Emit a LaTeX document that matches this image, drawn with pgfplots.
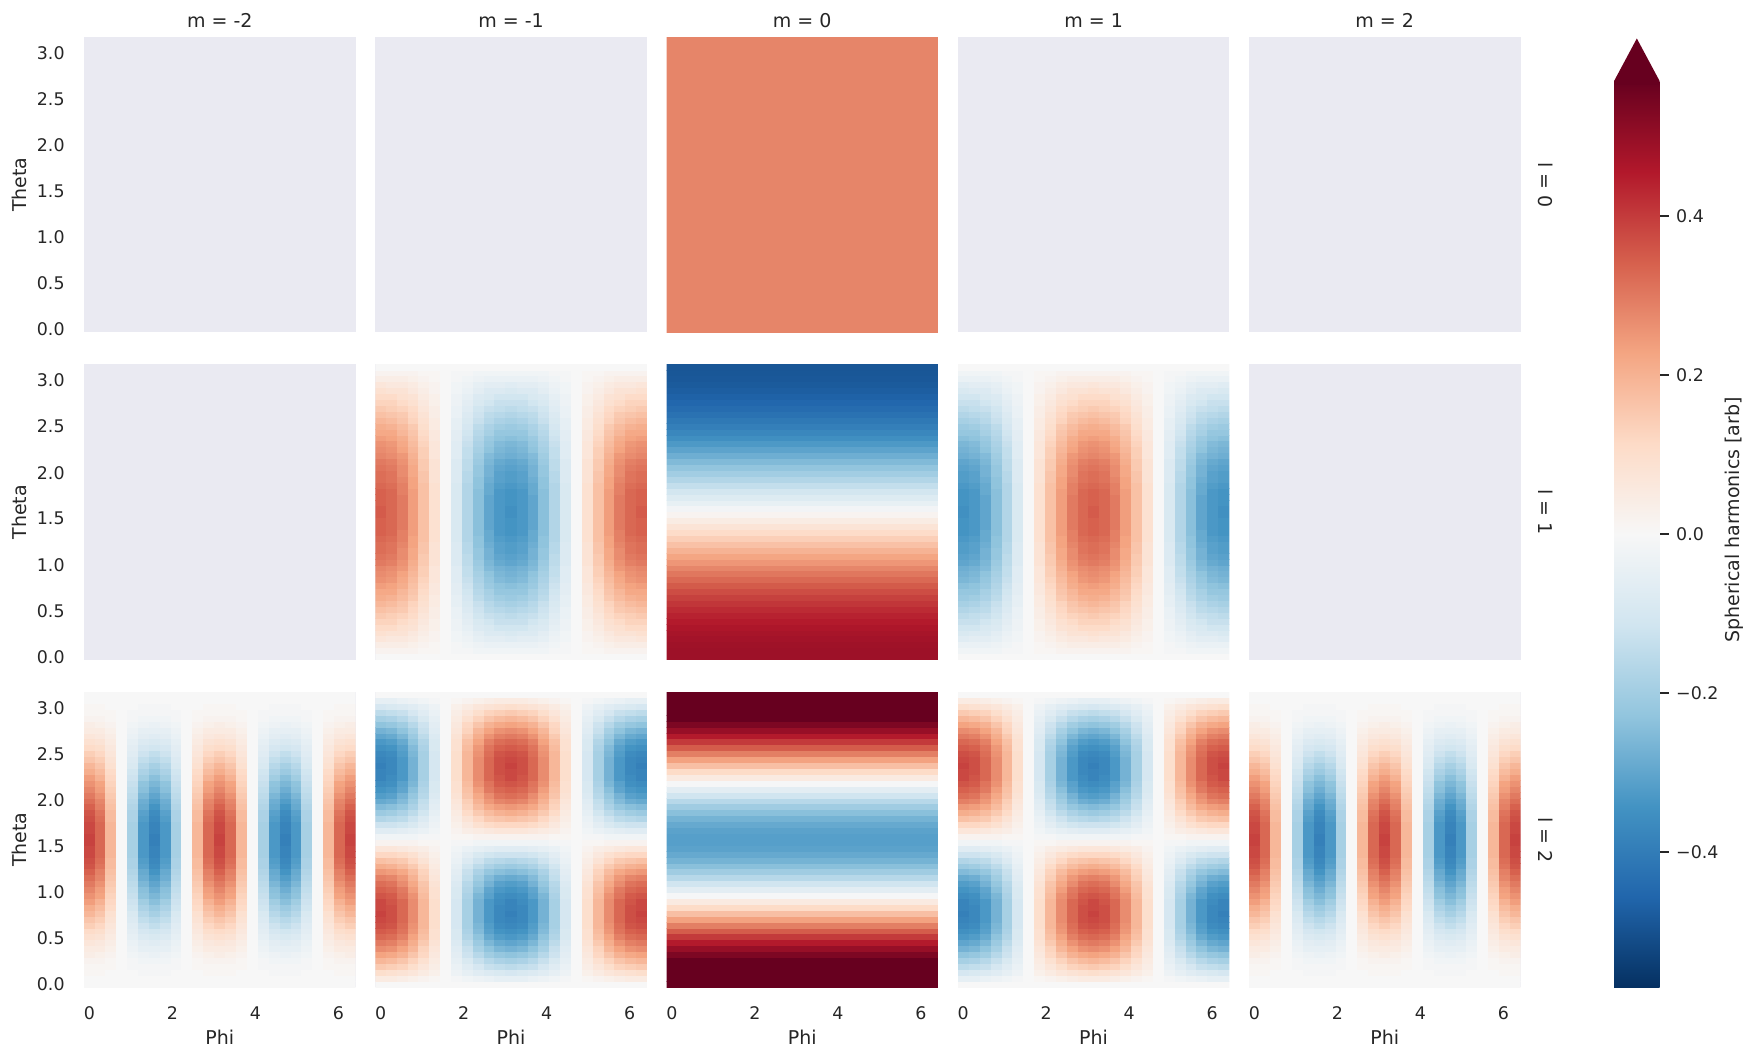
\documentclass[border=0pt]{standalone}
\usepackage{fontspec}
\setmainfont{DejaVu Sans}
\usepackage{pgfplots}
\usepackage{pgfplotstable}
\pgfplotsset{compat=1.18}
\definecolor{tc}{RGB}{38,38,38}
\definecolor{bgc}{RGB}{234,234,242}
\definecolor{cmax}{RGB}{103,0,31}
\newcommand\tickfont{\fontsize{8.7pt}{10pt}\selectfont}
\newcommand\labfont{\fontsize{9.5pt}{11pt}\selectfont}
\pgfdeclareplotmark{cell}{\pgfpathrectangle{\pgfpoint{-2.85pt}{-1.55pt}}{\pgfpoint{5.7pt}{3.1pt}}\pgfusepath{fill}}
\pgfdeclareplotmark{band}{\pgfpathrectangle{\pgfpoint{-68pt}{-1.55pt}}{\pgfpoint{136pt}{3.1pt}}\pgfusepath{fill}}
\pgfdeclareplotmark{full}{\pgfpathrectangle{\pgfpoint{-68pt}{-74pt}}{\pgfpoint{136pt}{148pt}}\pgfusepath{fill}}

\pgfplotsset{
  colormap={rdbu}{rgb255=(5,48,97) rgb255=(33,102,172) rgb255=(67,147,195) rgb255=(146,197,222) rgb255=(209,229,240) rgb255=(247,247,247) rgb255=(253,219,199) rgb255=(244,165,130) rgb255=(214,96,77) rgb255=(178,24,43) rgb255=(103,0,31)},
  panel/.style={scale only axis, width=135.75pt, height=147.75pt,
    xmin=-0.1309, xmax=6.4141, ymin=-0.03206, ymax=3.17365,
    anchor=north west, axis line style={draw=none}, major tick length=0pt,
    tick style={draw=none}, axis background/.style={fill=bgc},
    colormap name=rdbu, point meta min=-0.57, point meta max=0.57,
    xtick={0,2,4,6}, ytick={0,0.5,1,1.5,2,2.5,3},
    xticklabels={}, yticklabels={}, clip marker paths=true,
    every axis title/.style={font=\labfont, text=tc, at={(axis description cs:0.5,1)}, anchor=base, yshift=4.85pt, inner sep=0pt},
    tick label style={font=\tickfont, text=tc},
    xticklabel style={anchor=north, inner sep=0pt, yshift=-9.3pt},
    yticklabel style={anchor=east, inner sep=0pt, xshift=-9.5pt},
    every axis x label/.style={at={(axis description cs:0.5,-0.170)}, anchor=center, font=\labfont, text=tc},
    every axis y label/.style={at={(axis description cs:-0.2376,0.5)}, anchor=center, rotate=90, font=\labfont, text=tc}},
  leftcol/.style={yticklabels={0.0,0.5,1.0,1.5,2.0,2.5,3.0}, ylabel={Theta}},
  botrow/.style={xticklabels={0,2,4,6}, xlabel={Phi}},
  cellplot/.style={scatter, only marks, mark=cell, point meta=explicit,
    scatter/use mapped color={draw=none, fill=mapped color}},
}

% l = 1, m = -1 : columns c0..c12 at phi = k*pi/12, rows theta = i*pi/49
\pgfplotstableread{
c0 c1 c2 c3 c4 c5 c6 c7 c8 c9 c10 c11 c12
0 0 0 0 0 0 0 0 0 0 0 0 0
0.02 0.02 0.02 0.02 0.01 0.01 0 -0.01 -0.01 -0.02 -0.02 -0.02 -0.02
0.04 0.04 0.04 0.03 0.02 0.01 0 -0.01 -0.02 -0.03 -0.04 -0.04 -0.04
0.07 0.06 0.06 0.05 0.03 0.02 0 -0.02 -0.03 -0.05 -0.06 -0.06 -0.07
0.09 0.08 0.08 0.06 0.04 0.02 0 -0.02 -0.04 -0.06 -0.08 -0.08 -0.09
0.11 0.11 0.09 0.08 0.05 0.03 0 -0.03 -0.05 -0.08 -0.09 -0.11 -0.11
0.13 0.13 0.11 0.09 0.06 0.03 0 -0.03 -0.06 -0.09 -0.11 -0.13 -0.13
0.15 0.14 0.13 0.11 0.07 0.04 0 -0.04 -0.07 -0.11 -0.13 -0.14 -0.15
0.17 0.16 0.15 0.12 0.08 0.04 0 -0.04 -0.08 -0.12 -0.15 -0.16 -0.17
0.19 0.18 0.16 0.13 0.09 0.05 0 -0.05 -0.09 -0.13 -0.16 -0.18 -0.19
0.21 0.20 0.18 0.15 0.10 0.05 0 -0.05 -0.10 -0.15 -0.18 -0.20 -0.21
0.22 0.22 0.19 0.16 0.11 0.06 0 -0.06 -0.11 -0.16 -0.19 -0.22 -0.22
0.24 0.23 0.21 0.17 0.12 0.06 0 -0.06 -0.12 -0.17 -0.21 -0.23 -0.24
0.26 0.25 0.22 0.18 0.13 0.07 0 -0.07 -0.13 -0.18 -0.22 -0.25 -0.26
0.27 0.26 0.23 0.19 0.14 0.07 0 -0.07 -0.14 -0.19 -0.23 -0.26 -0.27
0.28 0.27 0.25 0.20 0.14 0.07 0 -0.07 -0.14 -0.20 -0.25 -0.27 -0.28
0.30 0.29 0.26 0.21 0.15 0.08 0 -0.08 -0.15 -0.21 -0.26 -0.29 -0.30
0.31 0.30 0.27 0.22 0.15 0.08 0 -0.08 -0.15 -0.22 -0.27 -0.30 -0.31
0.32 0.31 0.27 0.22 0.16 0.08 0 -0.08 -0.16 -0.22 -0.27 -0.31 -0.32
0.32 0.31 0.28 0.23 0.16 0.08 0 -0.08 -0.16 -0.23 -0.28 -0.31 -0.32
0.33 0.32 0.29 0.23 0.17 0.09 0 -0.09 -0.17 -0.23 -0.29 -0.32 -0.33
0.34 0.33 0.29 0.24 0.17 0.09 0 -0.09 -0.17 -0.24 -0.29 -0.33 -0.34
0.34 0.33 0.30 0.24 0.17 0.09 0 -0.09 -0.17 -0.24 -0.30 -0.33 -0.34
0.34 0.33 0.30 0.24 0.17 0.09 0 -0.09 -0.17 -0.24 -0.30 -0.33 -0.34
0.35 0.33 0.30 0.24 0.17 0.09 0 -0.09 -0.17 -0.24 -0.30 -0.33 -0.35
0.35 0.33 0.30 0.24 0.17 0.09 0 -0.09 -0.17 -0.24 -0.30 -0.33 -0.35
0.34 0.33 0.30 0.24 0.17 0.09 0 -0.09 -0.17 -0.24 -0.30 -0.33 -0.34
0.34 0.33 0.30 0.24 0.17 0.09 0 -0.09 -0.17 -0.24 -0.30 -0.33 -0.34
0.34 0.33 0.29 0.24 0.17 0.09 0 -0.09 -0.17 -0.24 -0.29 -0.33 -0.34
0.33 0.32 0.29 0.23 0.17 0.09 0 -0.09 -0.17 -0.23 -0.29 -0.32 -0.33
0.32 0.31 0.28 0.23 0.16 0.08 0 -0.08 -0.16 -0.23 -0.28 -0.31 -0.32
0.32 0.31 0.27 0.22 0.16 0.08 0 -0.08 -0.16 -0.22 -0.27 -0.31 -0.32
0.31 0.30 0.27 0.22 0.15 0.08 0 -0.08 -0.15 -0.22 -0.27 -0.30 -0.31
0.30 0.29 0.26 0.21 0.15 0.08 0 -0.08 -0.15 -0.21 -0.26 -0.29 -0.30
0.28 0.27 0.25 0.20 0.14 0.07 0 -0.07 -0.14 -0.20 -0.25 -0.27 -0.28
0.27 0.26 0.23 0.19 0.14 0.07 0 -0.07 -0.14 -0.19 -0.23 -0.26 -0.27
0.26 0.25 0.22 0.18 0.13 0.07 0 -0.07 -0.13 -0.18 -0.22 -0.25 -0.26
0.24 0.23 0.21 0.17 0.12 0.06 0 -0.06 -0.12 -0.17 -0.21 -0.23 -0.24
0.22 0.22 0.19 0.16 0.11 0.06 0 -0.06 -0.11 -0.16 -0.19 -0.22 -0.22
0.21 0.20 0.18 0.15 0.10 0.05 0 -0.05 -0.10 -0.15 -0.18 -0.20 -0.21
0.19 0.18 0.16 0.13 0.09 0.05 0 -0.05 -0.09 -0.13 -0.16 -0.18 -0.19
0.17 0.16 0.15 0.12 0.08 0.04 0 -0.04 -0.08 -0.12 -0.15 -0.16 -0.17
0.15 0.14 0.13 0.11 0.07 0.04 0 -0.04 -0.07 -0.11 -0.13 -0.14 -0.15
0.13 0.13 0.11 0.09 0.06 0.03 0 -0.03 -0.06 -0.09 -0.11 -0.13 -0.13
0.11 0.11 0.09 0.08 0.05 0.03 0 -0.03 -0.05 -0.08 -0.09 -0.11 -0.11
0.09 0.08 0.08 0.06 0.04 0.02 0 -0.02 -0.04 -0.06 -0.08 -0.08 -0.09
0.07 0.06 0.06 0.05 0.03 0.02 0 -0.02 -0.03 -0.05 -0.06 -0.06 -0.07
0.04 0.04 0.04 0.03 0.02 0.01 0 -0.01 -0.02 -0.03 -0.04 -0.04 -0.04
0.02 0.02 0.02 0.02 0.01 0.01 0 -0.01 -0.01 -0.02 -0.02 -0.02 -0.02
0 0 0 0 0 0 0 0 0 0 0 0 0
}\Tone

% l = 2, m = -1
\pgfplotstableread{
c0 c1 c2 c3 c4 c5 c6 c7 c8 c9 c10 c11 c12
0 0 0 0 0 0 0 0 0 0 0 0 0
0.05 0.05 0.04 0.03 0.02 0.01 0 -0.01 -0.02 -0.03 -0.04 -0.05 -0.05
0.10 0.09 0.08 0.07 0.05 0.03 0 -0.03 -0.05 -0.07 -0.08 -0.09 -0.10
0.15 0.14 0.13 0.10 0.07 0.04 0 -0.04 -0.07 -0.10 -0.13 -0.14 -0.15
0.19 0.18 0.16 0.13 0.09 0.05 0 -0.05 -0.09 -0.13 -0.16 -0.18 -0.19
0.23 0.22 0.20 0.16 0.12 0.06 0 -0.06 -0.12 -0.16 -0.20 -0.22 -0.23
0.27 0.26 0.23 0.19 0.13 0.07 0 -0.07 -0.13 -0.19 -0.23 -0.26 -0.27
0.30 0.29 0.26 0.21 0.15 0.08 0 -0.08 -0.15 -0.21 -0.26 -0.29 -0.30
0.33 0.32 0.29 0.23 0.17 0.09 0 -0.09 -0.17 -0.23 -0.29 -0.32 -0.33
0.35 0.34 0.31 0.25 0.18 0.09 0 -0.09 -0.18 -0.25 -0.31 -0.34 -0.35
0.37 0.36 0.32 0.26 0.19 0.10 0 -0.10 -0.19 -0.26 -0.32 -0.36 -0.37
0.38 0.37 0.33 0.27 0.19 0.10 0 -0.10 -0.19 -0.27 -0.33 -0.37 -0.38
0.39 0.37 0.33 0.27 0.19 0.10 0 -0.10 -0.19 -0.27 -0.33 -0.37 -0.39
0.38 0.37 0.33 0.27 0.19 0.10 0 -0.10 -0.19 -0.27 -0.33 -0.37 -0.38
0.38 0.36 0.33 0.27 0.19 0.10 0 -0.10 -0.19 -0.27 -0.33 -0.36 -0.38
0.36 0.35 0.31 0.26 0.18 0.09 0 -0.09 -0.18 -0.26 -0.31 -0.35 -0.36
0.34 0.33 0.30 0.24 0.17 0.09 0 -0.09 -0.17 -0.24 -0.30 -0.33 -0.34
0.32 0.31 0.27 0.22 0.16 0.08 0 -0.08 -0.16 -0.22 -0.27 -0.31 -0.32
0.29 0.28 0.25 0.20 0.14 0.07 0 -0.07 -0.14 -0.20 -0.25 -0.28 -0.29
0.25 0.24 0.22 0.18 0.13 0.06 0 -0.06 -0.13 -0.18 -0.22 -0.24 -0.25
0.21 0.20 0.18 0.15 0.11 0.05 0 -0.05 -0.11 -0.15 -0.18 -0.20 -0.21
0.17 0.16 0.15 0.12 0.08 0.04 0 -0.04 -0.08 -0.12 -0.15 -0.16 -0.17
0.12 0.12 0.11 0.09 0.06 0.03 0 -0.03 -0.06 -0.09 -0.11 -0.12 -0.12
0.07 0.07 0.06 0.05 0.04 0.02 0 -0.02 -0.04 -0.05 -0.06 -0.07 -0.07
0.02 0.02 0.02 0.02 0.01 0.01 0 -0.01 -0.01 -0.02 -0.02 -0.02 -0.02
-0.02 -0.02 -0.02 -0.02 -0.01 -0.01 0 0.01 0.01 0.02 0.02 0.02 0.02
-0.07 -0.07 -0.06 -0.05 -0.04 -0.02 0 0.02 0.04 0.05 0.06 0.07 0.07
-0.12 -0.12 -0.11 -0.09 -0.06 -0.03 0 0.03 0.06 0.09 0.11 0.12 0.12
-0.17 -0.16 -0.15 -0.12 -0.08 -0.04 0 0.04 0.08 0.12 0.15 0.16 0.17
-0.21 -0.20 -0.18 -0.15 -0.11 -0.05 0 0.05 0.11 0.15 0.18 0.20 0.21
-0.25 -0.24 -0.22 -0.18 -0.13 -0.06 0 0.06 0.13 0.18 0.22 0.24 0.25
-0.29 -0.28 -0.25 -0.20 -0.14 -0.07 0 0.07 0.14 0.20 0.25 0.28 0.29
-0.32 -0.31 -0.27 -0.22 -0.16 -0.08 0 0.08 0.16 0.22 0.27 0.31 0.32
-0.34 -0.33 -0.30 -0.24 -0.17 -0.09 0 0.09 0.17 0.24 0.30 0.33 0.34
-0.36 -0.35 -0.31 -0.26 -0.18 -0.09 0 0.09 0.18 0.26 0.31 0.35 0.36
-0.38 -0.36 -0.33 -0.27 -0.19 -0.10 0 0.10 0.19 0.27 0.33 0.36 0.38
-0.38 -0.37 -0.33 -0.27 -0.19 -0.10 0 0.10 0.19 0.27 0.33 0.37 0.38
-0.39 -0.37 -0.33 -0.27 -0.19 -0.10 0 0.10 0.19 0.27 0.33 0.37 0.39
-0.38 -0.37 -0.33 -0.27 -0.19 -0.10 0 0.10 0.19 0.27 0.33 0.37 0.38
-0.37 -0.36 -0.32 -0.26 -0.19 -0.10 0 0.10 0.19 0.26 0.32 0.36 0.37
-0.35 -0.34 -0.31 -0.25 -0.18 -0.09 0 0.09 0.18 0.25 0.31 0.34 0.35
-0.33 -0.32 -0.29 -0.23 -0.17 -0.09 0 0.09 0.17 0.23 0.29 0.32 0.33
-0.30 -0.29 -0.26 -0.21 -0.15 -0.08 0 0.08 0.15 0.21 0.26 0.29 0.30
-0.27 -0.26 -0.23 -0.19 -0.13 -0.07 0 0.07 0.13 0.19 0.23 0.26 0.27
-0.23 -0.22 -0.20 -0.16 -0.12 -0.06 0 0.06 0.12 0.16 0.20 0.22 0.23
-0.19 -0.18 -0.16 -0.13 -0.09 -0.05 0 0.05 0.09 0.13 0.16 0.18 0.19
-0.15 -0.14 -0.13 -0.10 -0.07 -0.04 0 0.04 0.07 0.10 0.13 0.14 0.15
-0.10 -0.09 -0.08 -0.07 -0.05 -0.03 0 0.03 0.05 0.07 0.08 0.09 0.10
-0.05 -0.05 -0.04 -0.03 -0.02 -0.01 0 0.01 0.02 0.03 0.04 0.05 0.05
0 0 0 0 0 0 0 0 0 0 0 0 0
}\Ttwo

% l = 2, m = -2 (and m = 2)
\pgfplotstableread{
c0 c1 c2 c3 c4 c5 c6 c7 c8 c9 c10 c11 c12
0 0 0 0 0 0 0 0 0 0 0 0 0
0 0 0 0 0 0 0 0 0 0 0 0 0
0.01 0.01 0 0 0 -0.01 -0.01 -0.01 0 0 0 0.01 0.01
0.01 0.01 0.01 0 -0.01 -0.01 -0.01 -0.01 -0.01 0 0.01 0.01 0.01
0.02 0.02 0.01 0 -0.01 -0.02 -0.02 -0.02 -0.01 0 0.01 0.02 0.02
0.04 0.03 0.02 0 -0.02 -0.03 -0.04 -0.03 -0.02 0 0.02 0.03 0.04
0.05 0.05 0.03 0 -0.03 -0.05 -0.05 -0.05 -0.03 0 0.03 0.05 0.05
0.07 0.06 0.04 0 -0.04 -0.06 -0.07 -0.06 -0.04 0 0.04 0.06 0.07
0.09 0.08 0.05 0 -0.05 -0.08 -0.09 -0.08 -0.05 0 0.05 0.08 0.09
0.11 0.10 0.06 0 -0.06 -0.10 -0.11 -0.10 -0.06 0 0.06 0.10 0.11
0.14 0.12 0.07 0 -0.07 -0.12 -0.14 -0.12 -0.07 0 0.07 0.12 0.14
0.16 0.14 0.08 0 -0.08 -0.14 -0.16 -0.14 -0.08 0 0.08 0.14 0.16
0.19 0.16 0.09 0 -0.09 -0.16 -0.19 -0.16 -0.09 0 0.09 0.16 0.19
0.21 0.18 0.11 0 -0.11 -0.18 -0.21 -0.18 -0.11 0 0.11 0.18 0.21
0.24 0.20 0.12 0 -0.12 -0.20 -0.24 -0.20 -0.12 0 0.12 0.20 0.24
0.26 0.23 0.13 0 -0.13 -0.23 -0.26 -0.23 -0.13 0 0.13 0.23 0.26
0.28 0.24 0.14 0 -0.14 -0.24 -0.28 -0.24 -0.14 0 0.14 0.24 0.28
0.30 0.26 0.15 0 -0.15 -0.26 -0.30 -0.26 -0.15 0 0.15 0.26 0.30
0.32 0.28 0.16 0 -0.16 -0.28 -0.32 -0.28 -0.16 0 0.16 0.28 0.32
0.34 0.29 0.17 0 -0.17 -0.29 -0.34 -0.29 -0.17 0 0.17 0.29 0.34
0.36 0.31 0.18 0 -0.18 -0.31 -0.36 -0.31 -0.18 0 0.18 0.31 0.36
0.37 0.32 0.18 0 -0.18 -0.32 -0.37 -0.32 -0.18 0 0.18 0.32 0.37
0.38 0.33 0.19 0 -0.19 -0.33 -0.38 -0.33 -0.19 0 0.19 0.33 0.38
0.38 0.33 0.19 0 -0.19 -0.33 -0.38 -0.33 -0.19 0 0.19 0.33 0.38
0.39 0.33 0.19 0 -0.19 -0.33 -0.39 -0.33 -0.19 0 0.19 0.33 0.39
0.39 0.33 0.19 0 -0.19 -0.33 -0.39 -0.33 -0.19 0 0.19 0.33 0.39
0.38 0.33 0.19 0 -0.19 -0.33 -0.38 -0.33 -0.19 0 0.19 0.33 0.38
0.38 0.33 0.19 0 -0.19 -0.33 -0.38 -0.33 -0.19 0 0.19 0.33 0.38
0.37 0.32 0.18 0 -0.18 -0.32 -0.37 -0.32 -0.18 0 0.18 0.32 0.37
0.36 0.31 0.18 0 -0.18 -0.31 -0.36 -0.31 -0.18 0 0.18 0.31 0.36
0.34 0.29 0.17 0 -0.17 -0.29 -0.34 -0.29 -0.17 0 0.17 0.29 0.34
0.32 0.28 0.16 0 -0.16 -0.28 -0.32 -0.28 -0.16 0 0.16 0.28 0.32
0.30 0.26 0.15 0 -0.15 -0.26 -0.30 -0.26 -0.15 0 0.15 0.26 0.30
0.28 0.24 0.14 0 -0.14 -0.24 -0.28 -0.24 -0.14 0 0.14 0.24 0.28
0.26 0.23 0.13 0 -0.13 -0.23 -0.26 -0.23 -0.13 0 0.13 0.23 0.26
0.24 0.20 0.12 0 -0.12 -0.20 -0.24 -0.20 -0.12 0 0.12 0.20 0.24
0.21 0.18 0.11 0 -0.11 -0.18 -0.21 -0.18 -0.11 0 0.11 0.18 0.21
0.19 0.16 0.09 0 -0.09 -0.16 -0.19 -0.16 -0.09 0 0.09 0.16 0.19
0.16 0.14 0.08 0 -0.08 -0.14 -0.16 -0.14 -0.08 0 0.08 0.14 0.16
0.14 0.12 0.07 0 -0.07 -0.12 -0.14 -0.12 -0.07 0 0.07 0.12 0.14
0.11 0.10 0.06 0 -0.06 -0.10 -0.11 -0.10 -0.06 0 0.06 0.10 0.11
0.09 0.08 0.05 0 -0.05 -0.08 -0.09 -0.08 -0.05 0 0.05 0.08 0.09
0.07 0.06 0.04 0 -0.04 -0.06 -0.07 -0.06 -0.04 0 0.04 0.06 0.07
0.05 0.05 0.03 0 -0.03 -0.05 -0.05 -0.05 -0.03 0 0.03 0.05 0.05
0.04 0.03 0.02 0 -0.02 -0.03 -0.04 -0.03 -0.02 0 0.02 0.03 0.04
0.02 0.02 0.01 0 -0.01 -0.02 -0.02 -0.02 -0.01 0 0.01 0.02 0.02
0.01 0.01 0.01 0 -0.01 -0.01 -0.01 -0.01 -0.01 0 0.01 0.01 0.01
0.01 0.01 0 0 0 -0.01 -0.01 -0.01 0 0 0 0.01 0.01
0 0 0 0 0 0 0 0 0 0 0 0 0
0 0 0 0 0 0 0 0 0 0 0 0 0
}\Tthree

% m = 0 columns: a = (l=1), b = (l=2), theta = i*pi/49
\pgfplotstableread{
a b
0.489 0.631
0.488 0.627
0.485 0.615
0.480 0.596
0.473 0.570
0.464 0.537
0.453 0.498
0.440 0.453
0.426 0.403
0.409 0.349
0.392 0.292
0.372 0.233
0.351 0.173
0.328 0.112
0.305 0.052
0.280 -0.006
0.253 -0.061
0.226 -0.113
0.198 -0.160
0.169 -0.203
0.139 -0.239
0.109 -0.269
0.078 -0.291
0.047 -0.307
0.016 -0.314
-0.016 -0.314
-0.047 -0.307
-0.078 -0.291
-0.109 -0.269
-0.139 -0.239
-0.169 -0.203
-0.198 -0.160
-0.226 -0.113
-0.253 -0.061
-0.280 -0.006
-0.305 0.052
-0.328 0.112
-0.351 0.173
-0.372 0.233
-0.392 0.292
-0.409 0.349
-0.426 0.403
-0.440 0.453
-0.453 0.498
-0.464 0.537
-0.473 0.570
-0.480 0.596
-0.485 0.615
-0.488 0.627
-0.489 0.631
}\Tzero

\begin{document}
\begin{tikzpicture}
\path[use as bounding box] (0,0) rectangle (878.5pt,530pt);

% ---------- row l = 0 ----------
\begin{axis}[panel, leftcol, at={(42pt,511.5pt)}, title={m = -2}]
\end{axis}
\begin{axis}[panel, at={(187.65pt,511.5pt)}, title={m = -1}]
\end{axis}
\begin{axis}[panel, at={(333.25pt,511.5pt)}, title={m = 0}]
\addplot[cellplot, mark=full] coordinates {(3.14159,1.5708) [0.282]};
\end{axis}
\begin{axis}[panel, at={(478.9pt,511.5pt)}, title={m = 1}]
\end{axis}
\begin{axis}[panel, at={(624.5pt,511.5pt)}, title={m = 2},
  colorbar, colorbar/width=22.75pt,
  colorbar style={at={(parent axis.north east)}, anchor=north west,
    xshift=38.25pt, yshift=-22pt, width=22.75pt, height=453.25pt, scale only axis,
    axis line style={draw=none},
    ytick={-0.4,-0.2,0,0.2,0.4}, yticklabels={−0.4,−0.2,0.0,0.2,0.4},
    ytick pos=right, yticklabel pos=right,
    tick align=outside, major tick length=4.5pt,
    tick style={draw=tc, line width=1pt},
    ytick style={draw=tc, line width=1pt},
    yticklabel style={font=\tickfont, text=tc, anchor=west, inner sep=0pt, xshift=3.6pt},
    extra description/.code={\fill[cmax] (axis description cs:0,0.996) -- (axis description cs:1,0.996) -- (axis description cs:1,1) -- (axis description cs:0.5,1.0469) -- (axis description cs:0,1) -- cycle;}}]
\end{axis}

% ---------- row l = 1 ----------
\begin{axis}[panel, leftcol, at={(42pt,347.75pt)}]
\end{axis}
\begin{axis}[panel, at={(187.65pt,347.75pt)}]
\pgfplotsinvokeforeach{0,...,12}{
  \addplot[cellplot] table[x expr={#1*0.2617994}, y expr={\coordindex*0.0641141}, meta=c#1]{\Tone};
  \addplot[cellplot] table[x expr={(24-#1)*0.2617994}, y expr={\coordindex*0.0641141}, meta=c#1]{\Tone};
}
\end{axis}
\begin{axis}[panel, at={(333.25pt,347.75pt)}]
\addplot[cellplot, mark=band] table[x expr=3.14159, y expr={\coordindex*0.0641141}, meta=a]{\Tzero};
\end{axis}
\begin{axis}[panel, at={(478.9pt,347.75pt)}]
\pgfplotsinvokeforeach{0,...,12}{
  \addplot[cellplot] table[x expr={(12-#1)*0.2617994}, y expr={\coordindex*0.0641141}, meta=c#1]{\Tone};
  \addplot[cellplot] table[x expr={(12+#1)*0.2617994}, y expr={\coordindex*0.0641141}, meta=c#1]{\Tone};
}
\end{axis}
\begin{axis}[panel, at={(624.5pt,347.75pt)}]
\end{axis}

% ---------- row l = 2 ----------
\begin{axis}[panel, leftcol, botrow, at={(42pt,184pt)}]
\pgfplotsinvokeforeach{0,...,12}{
  \addplot[cellplot] table[x expr={#1*0.2617994}, y expr={\coordindex*0.0641141}, meta=c#1]{\Tthree};
  \addplot[cellplot] table[x expr={(24-#1)*0.2617994}, y expr={\coordindex*0.0641141}, meta=c#1]{\Tthree};
}
\end{axis}
\begin{axis}[panel, botrow, at={(187.65pt,184pt)}]
\pgfplotsinvokeforeach{0,...,12}{
  \addplot[cellplot] table[x expr={#1*0.2617994}, y expr={\coordindex*0.0641141}, meta=c#1]{\Ttwo};
  \addplot[cellplot] table[x expr={(24-#1)*0.2617994}, y expr={\coordindex*0.0641141}, meta=c#1]{\Ttwo};
}
\end{axis}
\begin{axis}[panel, botrow, at={(333.25pt,184pt)}]
\addplot[cellplot, mark=band] table[x expr=3.14159, y expr={\coordindex*0.0641141}, meta=b]{\Tzero};
\end{axis}
\begin{axis}[panel, botrow, at={(478.9pt,184pt)}]
\pgfplotsinvokeforeach{0,...,12}{
  \addplot[cellplot] table[x expr={(12-#1)*0.2617994}, y expr={\coordindex*0.0641141}, meta=c#1]{\Ttwo};
  \addplot[cellplot] table[x expr={(12+#1)*0.2617994}, y expr={\coordindex*0.0641141}, meta=c#1]{\Ttwo};
}
\end{axis}
\begin{axis}[panel, botrow, at={(624.5pt,184pt)}]
\pgfplotsinvokeforeach{0,...,12}{
  \addplot[cellplot] table[x expr={#1*0.2617994}, y expr={\coordindex*0.0641141}, meta=c#1]{\Tthree};
  \addplot[cellplot] table[x expr={(24-#1)*0.2617994}, y expr={\coordindex*0.0641141}, meta=c#1]{\Tthree};
}
\end{axis}

% row labels and colorbar label
\node[rotate=-90, font=\labfont, text=tc] at (773pt,437.6pt) {l = 0};
\node[rotate=-90, font=\labfont, text=tc] at (773pt,273.9pt) {l = 1};
\node[rotate=-90, font=\labfont, text=tc] at (773pt,110.1pt) {l = 2};
\node[rotate=90, font=\labfont, text=tc] at (867.3pt,270pt) {Spherical harmonics [arb]};
\end{tikzpicture}
\end{document}
